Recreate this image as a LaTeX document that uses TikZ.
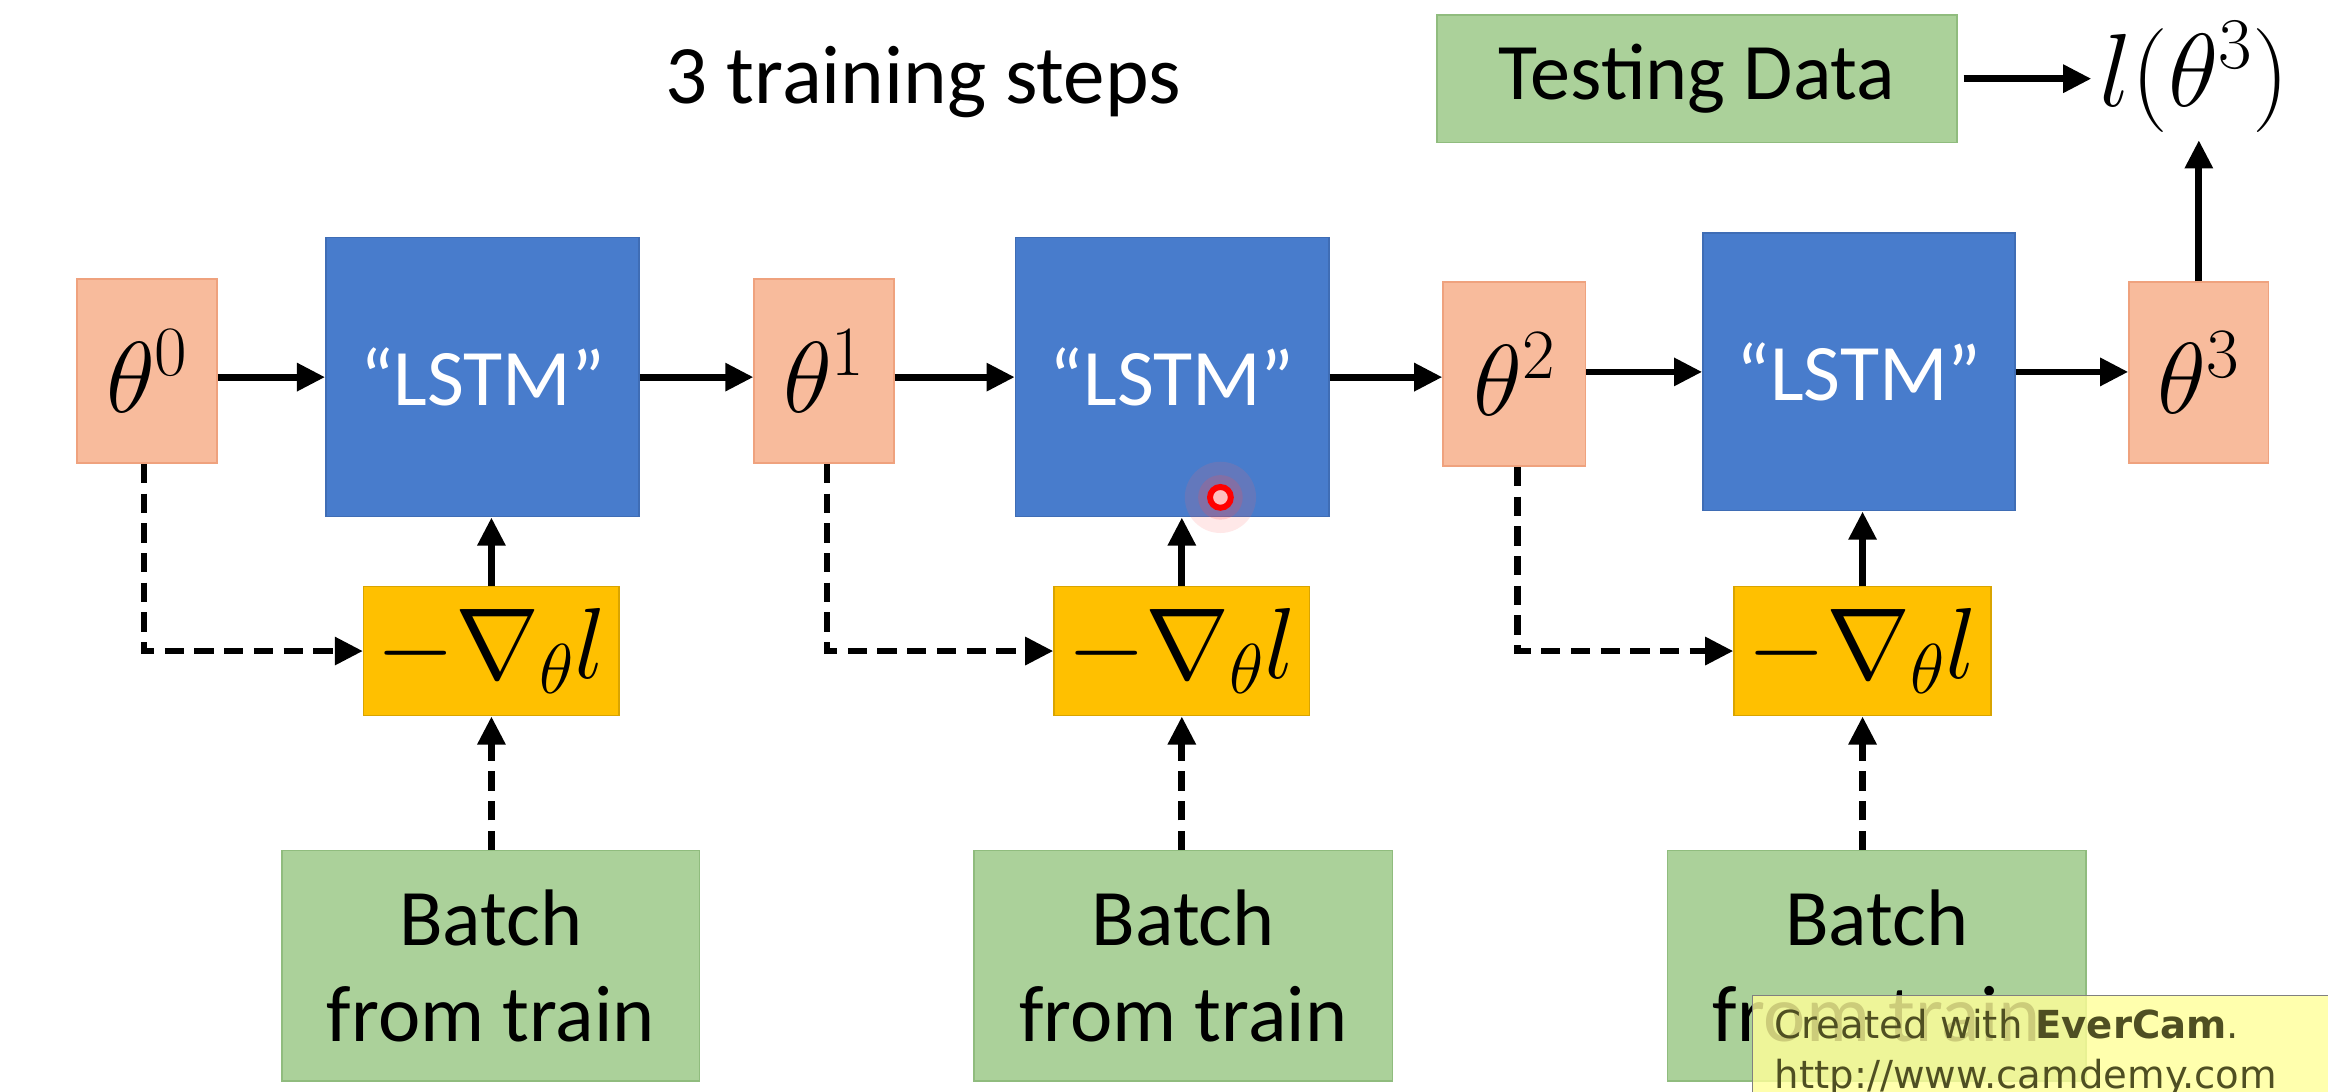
\documentclass[tikz,border=0pt]{standalone}
\usepackage{fix-cm}
\usepackage{fontspec}
\setmainfont{Carlito}
\newfontfamily\wmfont{DejaVu Sans}
\usetikzlibrary{arrows.meta}
\definecolor{thetafill}{HTML}{F8BB9C}
\definecolor{thetaline}{HTML}{EFA27E}
\definecolor{lstmblue}{HTML}{487CCC}
\definecolor{lstmline}{HTML}{3F6DB5}
\definecolor{gradyellow}{HTML}{FFC000}
\definecolor{gradline}{HTML}{D9A400}
\definecolor{batchgreen}{HTML}{ABD19A}
\definecolor{batchline}{HTML}{90BC7E}
\definecolor{wmyellow}{HTML}{FFFF99}
\definecolor{wmtext}{HTML}{4F4F22}
\tikzset{
  thetabox/.style={draw=thetaline, line width=1pt, fill=thetafill, minimum width=94pt, minimum height=124pt, inner sep=0pt, font=\fontsize{68}{80}\selectfont},
  lstmbox/.style={draw=lstmline, line width=1pt, fill=lstmblue, text=white, minimum width=211pt, minimum height=188pt, inner sep=0pt, font=\fontsize{54}{64}\selectfont},
  gradbox/.style={draw=gradline, line width=1pt, fill=gradyellow, minimum width=172pt, minimum height=87pt, inner sep=0pt, font=\fontsize{68}{80}\selectfont},
  batchbox/.style={draw=batchline, line width=1pt, fill=batchgreen, minimum width=281pt, minimum height=155pt, inner sep=0pt, align=center, font=\fontsize{54}{65}\selectfont},
  flow/.style={line width=4.6pt, -{Triangle[length=19pt,width=18pt]}},
  dflow/.style={flow, dash pattern=on 13pt off 7pt},
}
\begin{document}
\begin{tikzpicture}[x=1pt,y=-1pt]
\useasboundingbox (0,0) rectangle (1568,735.5);
% title
\node[anchor=base, font=\fontsize{56}{66}\selectfont] (title) at (622,70) {3 training steps};
% main row
\node[thetabox] (t0) at (99,250) {$\theta^0$};
\node[lstmbox] (L1) at (325,254) {“LSTM”};
\node[thetabox] (t1) at (555,250) {$\theta^1$};
\node[lstmbox] (L2) at (789.5,254) {“LSTM”};
\node[thetabox, minimum width=96pt] (t2) at (1020,252) {$\theta^2$};
\node[lstmbox, minimum width=210pt, minimum height=187pt] (L3) at (1252,250.5) {“LSTM”};
\node[thetabox, minimum height=122pt] (t3) at (1481,251) {$\theta^3$};
% gradient boxes
\node[gradbox] (g1) at (331,438.5) {$-\nabla_\theta l$};
\node[gradbox] (g2) at (796,438.5) {$-\nabla_\theta l$};
\node[gradbox, minimum width=173pt] (g3) at (1254.5,438.5) {$-\nabla_\theta l$};
% batch boxes
\node[batchbox] (b1) at (330.5,650.5) {Batch\\from train};
\node[batchbox, minimum width=282pt] (b2) at (797,650.5) {Batch\\from train};
\node[batchbox, minimum width=282pt] (b3) at (1264,650.5) {Batch\\from train};
% testing
\node[batchbox, minimum width=350pt, minimum height=86pt] (test) at (1143,53) {Testing Data};
\node[inner sep=5pt, font=\fontsize{70}{80}\selectfont] (loss) at (1478,52) {$l(\theta^3)$};
% solid arrows
\draw[flow] (t0.east |- L1.west) -- (L1.west);
\draw[flow] (L1.east) -- (L1.east -| t1.west);
\draw[flow] (t1.east |- L2.west) -- (L2.west);
\draw[flow] (L2.east) -- (L2.east -| t2.west);
\draw[flow] (t2.east |- L3.west) -- (L3.west);
\draw[flow] (L3.east) -- (L3.east -| t3.west);
\draw[flow] (g1.north) -- (g1.north |- L1.south);
\draw[flow] (g2.north) -- (g2.north |- L2.south);
\draw[flow] (g3.north) -- (g3.north |- L3.south);
\draw[flow, shorten <=4pt] (test.east) -- (test.east -| loss.west);
\draw[flow] (t3.north) -- (t3.north |- loss.south);
% dashed arrows
\draw[dflow] ([xshift=-2pt]t0.south) |- (g1.west);
\draw[dflow] ([xshift=2pt]t1.south) |- (g2.west);
\draw[dflow] ([xshift=2pt]t2.south) |- (g3.west);
\draw[dflow] (g1.south |- b1.north) -- (g1.south);
\draw[dflow] (g2.south |- b2.north) -- (g2.south);
\draw[dflow] (g3.south |- b3.north) -- (g3.south);
% cursor
\fill[red!60!white, opacity=0.15] (822,335) circle (24pt);
\fill[red!70!white, opacity=0.2] (822,335) circle (15pt);
\draw[red, line width=4pt, fill=white!75!red] (822,335) circle (7pt);
% watermark
\node[draw=gray, line width=1pt, fill=wmyellow, fill opacity=0.8, text opacity=1, text=wmtext, anchor=north west, minimum width=382pt, minimum height=75pt, inner xsep=15pt, inner ysep=9pt, align=left, text width=360pt, font=\wmfont\fontsize{26}{34}\selectfont] (wm) at (1180,670) {Created with \textbf{EverCam}.\\http://www.camdemy.com};
\end{tikzpicture}
\end{document}
